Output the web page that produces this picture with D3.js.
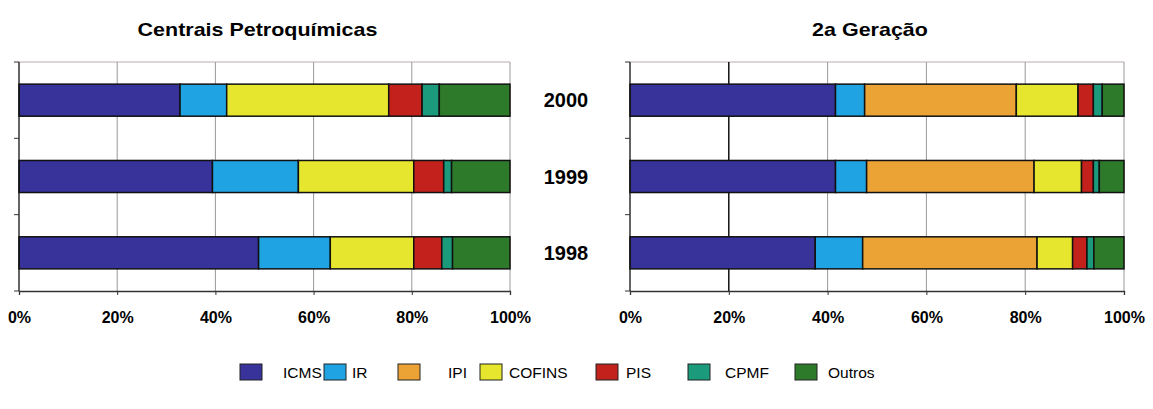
<!DOCTYPE html>
<html>
<head>
<meta charset="utf-8">
<script src="https://cdn.jsdelivr.net/npm/d3@7"></script>
<style>
  html, body { margin: 0; padding: 0; background: #fff; }
  svg { display: block; font-family: "Liberation Sans", Arial, sans-serif; }
</style>
</head>
<body>
<svg id="chart" width="1153" height="409"></svg>
<script>
// Tax composition (% of total) by year, two industry segments
const years = ["2000", "1999", "1998"];
const taxes = ["ICMS", "IR", "IPI", "COFINS", "PIS", "CPMF", "Outros"];
const xTicks = [0, 0.2, 0.4, 0.6, 0.8, 1.0];

// Centrais Petroquímicas — one array per year, in the order of `taxes`
const centrais2000 = [32.8, 9.5, 0, 33.0, 6.8, 3.5, 14.4];
const centrais1999 = [39.4, 17.5, 0, 23.5, 6.1, 1.6, 11.9];
const centrais1998 = [48.8, 14.6, 0, 17.0, 5.7, 2.2, 11.7];

// 2a Geração
const geracao2000 = [41.6, 5.9, 30.7, 12.5, 3.1, 1.8, 4.4];
const geracao1999 = [41.6, 6.3, 33.9, 9.6, 2.4, 1.2, 5.0];
const geracao1998 = [37.5, 9.6, 35.3, 7.2, 2.9, 1.4, 6.1];

const colors = ["#37339a", "#1fa3e3", "#eba336", "#e6e62e", "#c2221b", "#1b9a7c", "#2c7a2a"];

const panels = [
  { title: "Centrais Petroquímicas", rows: [centrais2000, centrais1999, centrais1998], x0: 19, x1: 510, darkGrid: null },
  { title: "2a Geração", rows: [geracao2000, geracao1999, geracao1998], x0: 630, x1: 1124, darkGrid: 0.2 }
];

const svg = d3.select("#chart");
const plotTop = 62, plotBottom = 291;
const color = d3.scaleOrdinal().domain(taxes).range(colors);

const y = d3.scaleBand().domain(years).range([plotTop, plotBottom]).paddingInner(0.58).paddingOuter(0.29);

panels.forEach(p => {
  const x = d3.scaleLinear().domain([0, 1]).range([p.x0, p.x1]);
  const g = svg.append("g");

  // title (wide bold face)
  const title = g.append("text")
    .attr("x", (p.x0 + p.x1) / 2 - 7)
    .attr("y", 36)
    .attr("text-anchor", "middle")
    .attr("font-weight", "bold")
    .attr("font-size", 19)
    .text(p.title);
  const w = title.node().getComputedTextLength();
  title.attr("textLength", w * 1.13).attr("lengthAdjust", "spacingAndGlyphs");

  // plot frame (top) and vertical gridlines
  g.append("line").attr("x1", p.x0).attr("x2", p.x1).attr("y1", plotTop).attr("y2", plotTop)
    .attr("stroke", "#b9a9b0").attr("stroke-width", 1);
  g.selectAll(".grid").data(xTicks.slice(1)).join("line")
    .attr("x1", d => x(d)).attr("x2", d => x(d))
    .attr("y1", plotTop).attr("y2", plotBottom)
    .attr("stroke", d => d === p.darkGrid ? "#111" : "#999")
    .attr("stroke-width", d => d === p.darkGrid ? 1.5 : 1);

  // stacked bars, normalized to 100%
  const rowsAsObjects = years.map((yr, i) => {
    const total = d3.sum(p.rows[i]);
    const o = { year: yr };
    taxes.forEach((t, j) => { o[t] = p.rows[i][j] / total; });
    return o;
  });
  const series = d3.stack().keys(taxes)(rowsAsObjects);

  g.selectAll(".layer").data(series).join("g")
    .attr("fill", d => color(d.key))
    .selectAll("rect").data(d => d.filter(s => s[1] - s[0] > 0)).join("rect")
    .attr("x", d => x(d[0]))
    .attr("y", d => y(d.data.year))
    .attr("width", d => x(d[1]) - x(d[0]))
    .attr("height", y.bandwidth())
    .attr("stroke", "#111")
    .attr("stroke-width", 1.5);

  // left axis with category-boundary ticks
  g.append("line").attr("x1", p.x0).attr("x2", p.x0).attr("y1", plotTop).attr("y2", plotBottom)
    .attr("stroke", "#111").attr("stroke-width", 1.3);
  g.selectAll(".ytick").data(d3.range(years.length + 1)).join("line")
    .attr("x1", p.x0 - 5).attr("x2", p.x0)
    .attr("y1", i => plotTop + i * y.step()).attr("y2", i => plotTop + i * y.step())
    .attr("stroke", "#333").attr("stroke-width", 1);

  // bottom axis
  const ax = g.append("g").attr("transform", `translate(0,${plotBottom})`)
    .call(d3.axisBottom(x).tickValues(xTicks).tickFormat(d3.format(".0%")).tickSize(4).tickPadding(17));
  ax.select(".domain").attr("stroke", "#333").attr("stroke-width", 1.3);
  ax.selectAll(".tick line").attr("stroke", "#333");
  ax.selectAll("text")
    .attr("font-family", "'Liberation Sans', Arial, sans-serif")
    .attr("font-size", 16)
    .attr("font-weight", "bold")
    .attr("fill", "#000");
});

// year labels between the panels
svg.selectAll(".yearLabel").data(years).join("text")
  .attr("x", 566)
  .attr("y", d => y(d) + y.bandwidth() / 2 + 7)
  .attr("text-anchor", "middle")
  .attr("font-weight", "bold")
  .attr("font-size", 20)
  .text(d => d);

// legend
const legendSwatchX = [240, 324, 398, 480, 596, 688, 795];
const legendTextX = [283, 352, 448, 509, 626, 725, 828];
const legendY = 372;
const lg = svg.append("g");
lg.selectAll("rect").data(taxes).join("rect")
  .attr("x", (d, i) => legendSwatchX[i])
  .attr("y", legendY - 8)
  .attr("width", 22)
  .attr("height", 16)
  .attr("fill", d => color(d))
  .attr("stroke", "#222")
  .attr("stroke-width", 1);
lg.selectAll("text").data(taxes).join("text")
  .attr("x", (d, i) => legendTextX[i])
  .attr("y", legendY + 6)
  .attr("font-size", 15.5)
  .text(d => d);
</script>
</body>
</html>
